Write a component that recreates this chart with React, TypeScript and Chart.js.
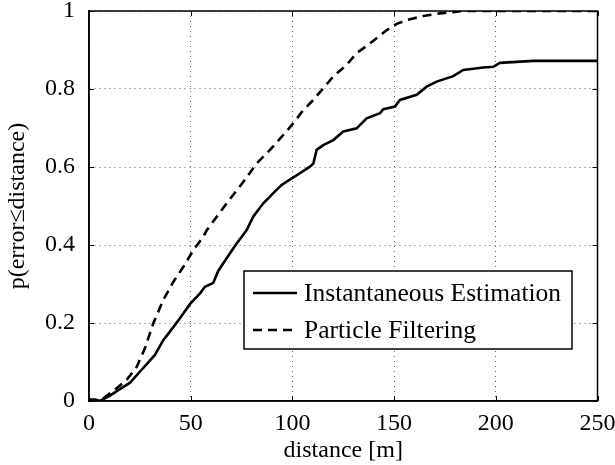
import React, { useEffect, useRef } from "react";
import { Chart, registerables } from "chart.js";

Chart.register(...registerables);

const instDistance = [0, 3, 5.4, 10.3, 15, 20.2, 25, 28.5, 32.4, 36.5, 39.8, 44.7, 49.7, 54.6, 57, 61.1, 63.6, 69.3, 72.6, 77.5, 80.8, 85.7, 90.6, 94.7, 99.7, 103.7, 108.6, 110.3, 111.9, 115.2, 120.1, 125, 131.6, 136.5, 143.1, 144.7, 150.4, 152.9, 161.1, 166, 170.9, 179.1, 184, 193.9, 198.8, 202, 218.4, 250];
const instProb = [0.004, 0.004, 0, 0.014, 0.03, 0.047, 0.075, 0.095, 0.118, 0.156, 0.178, 0.212, 0.249, 0.276, 0.293, 0.303, 0.334, 0.379, 0.404, 0.438, 0.473, 0.507, 0.533, 0.554, 0.571, 0.584, 0.601, 0.609, 0.644, 0.656, 0.669, 0.691, 0.699, 0.725, 0.738, 0.748, 0.755, 0.772, 0.785, 0.806, 0.819, 0.833, 0.849, 0.855, 0.857, 0.867, 0.872, 0.872];

const pfDistance = [0, 5.4, 12, 18.5, 23.5, 27.5, 31.6, 36.5, 41.5, 46.4, 51.3, 56.2, 57.9, 67.7, 75.9, 82.4, 89, 95.5, 100.4, 105.4, 110.3, 115.2, 120.1, 126.7, 131.6, 138.2, 141.4, 146.4, 151.3, 156.2, 164.4, 172.6, 180.8, 183, 250];
const pfProb = [0, 0, 0.026, 0.054, 0.088, 0.135, 0.199, 0.259, 0.306, 0.344, 0.387, 0.421, 0.438, 0.507, 0.562, 0.609, 0.644, 0.682, 0.712, 0.746, 0.772, 0.802, 0.832, 0.862, 0.892, 0.917, 0.93, 0.951, 0.967, 0.977, 0.987, 0.994, 0.998, 1.0, 1.0];

const seriesLabels = ["Instantaneous Estimation", "Particle Filtering"];
const xTitle = "distance [m]";
const yTitle = "p(error\u2264distance)";

const FONT = "'Liberation Serif', 'Times New Roman', serif";

const zip = (xs: number[], ys: number[]) => xs.map((x, i) => ({ x, y: ys[i] }));

const zeroPad = (s: any) => {
  s.paddingTop = 0;
  s.paddingBottom = 0;
  s.paddingLeft = 0;
  s.paddingRight = 0;
};

const framePlugin = {
  id: "frame",
  afterDatasetsDraw(chart: any) {
    const { ctx, chartArea, scales } = chart;
    const { left, right, top, bottom } = chartArea;
    ctx.save();
    ctx.strokeStyle = "#000";
    ctx.lineWidth = 1;
    const tl = 5;
    scales.x.ticks.forEach((t: any) => {
      const px = Math.round(scales.x.getPixelForValue(t.value)) + 0.5;
      ctx.beginPath();
      ctx.moveTo(px, bottom);
      ctx.lineTo(px, bottom - tl);
      ctx.moveTo(px, top);
      ctx.lineTo(px, top + tl);
      ctx.stroke();
    });
    scales.y.ticks.forEach((t: any) => {
      const py = Math.round(scales.y.getPixelForValue(t.value)) + 0.5;
      ctx.beginPath();
      ctx.moveTo(left, py);
      ctx.lineTo(left + tl, py);
      ctx.moveTo(right, py);
      ctx.lineTo(right - tl, py);
      ctx.stroke();
    });
    ctx.lineWidth = 1.5;
    ctx.strokeRect(left, top, right - left, bottom - top);

    // legend box
    const bx = left + 155;
    const by = top + 260;
    const bw = 328;
    const bh = 78;
    ctx.fillStyle = "#fff";
    ctx.fillRect(bx, by, bw, bh);
    ctx.lineWidth = 1.5;
    ctx.strokeStyle = "#000";
    ctx.strokeRect(bx, by, bw, bh);
    const rows = [22, 59];
    chart.data.datasets.forEach((ds: any, i: number) => {
      const ry = by + rows[i];
      ctx.beginPath();
      ctx.lineWidth = ds.borderWidth;
      ctx.setLineDash(ds.borderDash || []);
      ctx.moveTo(bx + 9, ry);
      ctx.lineTo(bx + 53, ry);
      ctx.stroke();
      ctx.setLineDash([]);
      ctx.fillStyle = "#000";
      ctx.font = `25.5px ${FONT}`;
      ctx.textBaseline = "middle";
      ctx.textAlign = "left";
      ctx.fillText(ds.label, bx + 60, ry + 1);
    });
    ctx.restore();
  },
};

export default function App() {
  const ref = useRef<HTMLCanvasElement>(null);
  useEffect(() => {
    if (!ref.current) return;
    const chart = new Chart(ref.current, {
      type: "line",
      data: {
        datasets: [
          {
            label: seriesLabels[0],
            data: zip(instDistance, instProb),
            borderColor: "#000",
            borderWidth: 2.6,
            pointRadius: 0,
            tension: 0,
            fill: false,
          },
          {
            label: seriesLabels[1],
            data: zip(pfDistance, pfProb),
            borderColor: "#000",
            borderWidth: 2.6,
            borderDash: [9, 6],
            pointRadius: 0,
            tension: 0,
            fill: false,
          },
        ],
      },
      options: {
        animation: false,
        responsive: false,
        events: [],
        layout: { padding: { top: 11, right: 17.5, left: 0, bottom: 0 } },
        plugins: { legend: { display: false }, tooltip: { enabled: false } },
        scales: {
          x: {
            type: "linear",
            min: 0,
            max: 250,
            ticks: { stepSize: 50, color: "#000", font: { family: FONT, size: 24 }, padding: 8, maxRotation: 0 },
            grid: { color: "#666", lineWidth: 1, drawTicks: false },
            border: { display: true, color: "#000", width: 1.5, dash: [1, 4] },
            title: { display: true, text: xTitle, color: "#000", font: { family: FONT, size: 24 }, padding: { top: 2, bottom: 0 } },
            afterFit: (s: any) => { s.height = 64; zeroPad(s); },
          },
          y: {
            type: "linear",
            min: 0,
            max: 1,
            ticks: {
              stepSize: 0.2,
              color: "#000",
              font: { family: FONT, size: 24 },
              padding: 14,
              callback: (v: any) => String(Math.round(Number(v) * 10) / 10),
            },
            grid: { color: "#666", lineWidth: 1, drawTicks: false },
            border: { display: true, color: "#000", width: 1.5, dash: [1, 4] },
            title: { display: true, text: yTitle, color: "#000", font: { family: FONT, size: 24 }, padding: { top: 3, bottom: 0 } },
            afterFit: (s: any) => { s.width = 89; zeroPad(s); },
          },
        },
      },
      plugins: [framePlugin],
    });
    return () => chart.destroy();
  }, []);
  return (
    <div style={{ position: "absolute", left: 0, top: 0, width: 615, height: 465, background: "#fff" }}>
      <canvas ref={ref} width={615} height={465} />
    </div>
  );
}
